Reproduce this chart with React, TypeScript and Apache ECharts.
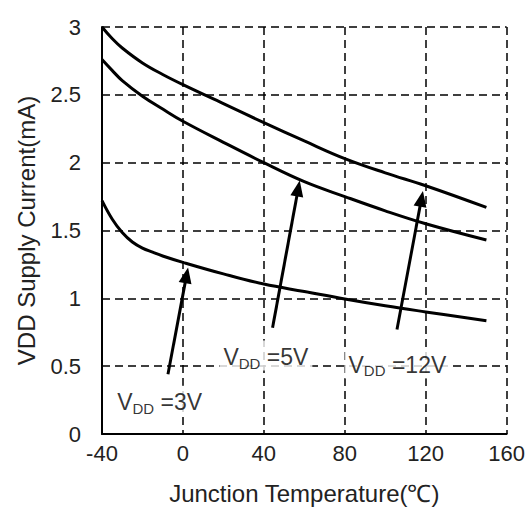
import React, { useEffect, useRef } from "react";
import * as echarts from "echarts";

// Junction temperature (°C) and supply current (mA) for each VDD
const temps12 = [-40, -35, -30, -20, -10, 0, 20, 40, 60, 80, 100, 120, 150];
const current12 = [3.0, 2.915, 2.845, 2.735, 2.65, 2.575, 2.435, 2.295, 2.16, 2.03, 1.925, 1.83, 1.67];
const temps5 = [-40, -35, -30, -20, -10, 0, 20, 40, 60, 80, 100, 120, 150];
const current5 = [2.76, 2.68, 2.605, 2.49, 2.395, 2.305, 2.15, 2.0, 1.86, 1.75, 1.645, 1.55, 1.43];
const temps3 = [-40, -35, -30, -25, -20, -15, -10, 0, 20, 40, 60, 80, 100, 120, 150];
const current3 = [1.72, 1.585, 1.485, 1.415, 1.37, 1.34, 1.312, 1.265, 1.18, 1.105, 1.05, 0.995, 0.945, 0.9, 0.835];

// Annotation labels (data coordinates)
const labelNames = ["3V", "5V", "12V"];
const labelX = [-11.5, 41, 106];
const labelY = [0.245, 0.578, 0.52];

// Arrows: tail -> tip (data coordinates)
const arrowTail = [[-7.4, 0.44], [44.3, 0.783], [105.8, 0.77]];
const arrowTip = [[1.8, 1.17], [57, 1.81], [117.9, 1.734]];

const xTicks = { min: -40, max: 160, interval: 40 };
const yTicks = { min: 0, max: 3, interval: 0.5 };

const FONT = "'Liberation Sans', Arial, sans-serif";
const TEXT = "#222";

export default function App() {
  const ref = useRef<HTMLDivElement>(null);
  useEffect(() => {
    if (!ref.current) return;
    const chart = echarts.init(ref.current, undefined, { renderer: "svg" });
    const zip = (xs: number[], ys: number[]) => xs.map((x, i) => [x, ys[i]]);
    const curve = (data: number[][], arrowIdx: number) => ({
      type: "line",
      data,
      smooth: 0.4,
      showSymbol: false,
      silent: true,
      lineStyle: { color: "#000", width: 3 },
      itemStyle: { color: "#000" },
      markLine: {
        silent: true,
        symbol: ["none", "triangle"],
        symbolSize: [13, 16],
        label: { show: false },
        lineStyle: { color: "#000", width: 3, type: "solid" },
        itemStyle: { color: "#000" },
        data: [[{ coord: arrowTail[arrowIdx] }, { coord: arrowTip[arrowIdx] }]],
      },
    });
    chart.setOption({
      animation: false,
      backgroundColor: "#fff",
      grid: { left: 102, right: 21, top: 27, bottom: 73 },
      xAxis: {
        type: "value",
        ...xTicks,
        name: "Junction Temperature(℃)",
        nameLocation: "middle",
        nameGap: 47,
        nameTextStyle: { fontFamily: FONT, fontSize: 24, color: TEXT },
        axisLine: { show: true, onZero: false, lineStyle: { color: "#000", width: 2 } },
        axisTick: { show: false },
        axisLabel: { fontFamily: FONT, fontSize: 22, color: TEXT, margin: 8 },
        splitLine: { show: true, lineStyle: { color: "#000", width: 1.5, type: [8, 5] } },
      },
      yAxis: {
        type: "value",
        ...yTicks,
        name: "VDD Supply Current(mA)",
        nameLocation: "middle",
        nameGap: 64,
        nameRotate: 90,
        nameTextStyle: { fontFamily: FONT, fontSize: 24, color: TEXT },
        axisLine: { show: true, onZero: false, lineStyle: { color: "#000", width: 2 } },
        axisTick: { show: false },
        axisLabel: { fontFamily: FONT, fontSize: 22, color: TEXT, margin: 21 },
        splitLine: { show: true, lineStyle: { color: "#000", width: 1.5, type: [8, 5] } },
      },
      series: [
        curve(zip(temps3, current3), 0),
        curve(zip(temps5, current5), 1),
        curve(zip(temps12, current12), 2),
        {
          type: "scatter",
          symbolSize: 0,
          silent: true,
          z: 5,
          data: labelNames.map((n, i) => ({ name: n, value: [labelX[i], labelY[i]] })),
          label: {
            show: true,
            position: "inside",
            backgroundColor: "#fff",
            padding: [2, 4],
            formatter: (p: any) => `{v|V}{s|DD}{v| =${p.name}}`,
            rich: {
              v: { fontFamily: FONT, fontSize: 23, color: "#000", lineHeight: 26, verticalAlign: "bottom" },
              s: { fontFamily: FONT, fontSize: 15, color: "#000", lineHeight: 26, verticalAlign: "bottom", padding: [0, 0, -2, 0] },
            },
          },
        },
      ],
    });
    return () => chart.dispose();
  }, []);
  return (
    <div
      ref={ref}
      style={{ position: "fixed", left: 0, top: 0, width: 528, height: 510, background: "#fff" }}
    />
  );
}
